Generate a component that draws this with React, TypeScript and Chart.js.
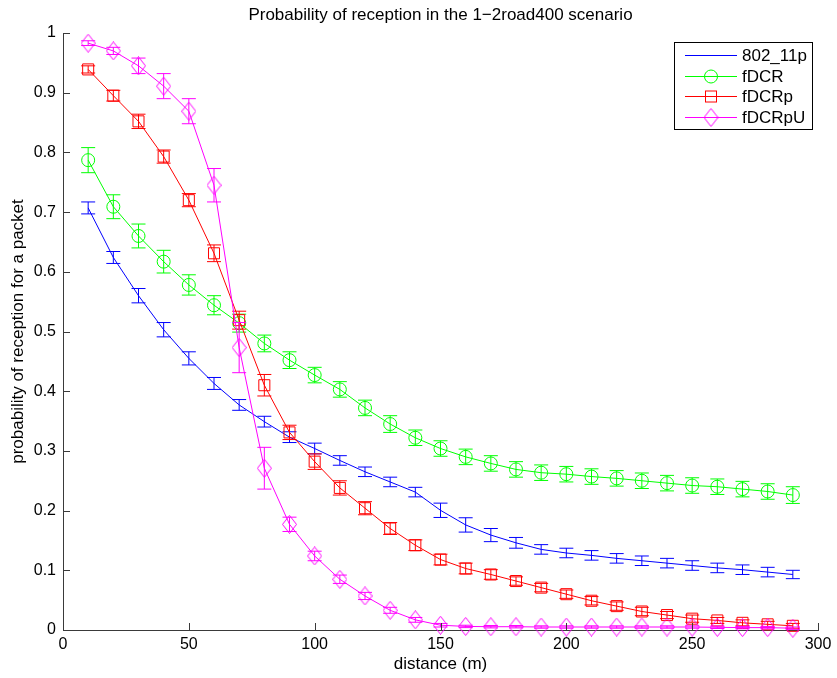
import { useEffect, useRef } from "react";
import { Chart, registerables } from "chart.js";

Chart.register(...registerables);

const distances = [10, 20, 30, 40, 50, 60, 70, 80, 90, 100, 110, 120, 130, 140, 150, 160, 170, 180, 190, 200, 210, 220, 230, 240, 250, 260, 270, 280, 290];

const p80211p = [0.707, 0.624, 0.560, 0.503, 0.455, 0.413, 0.377, 0.349, 0.323, 0.304, 0.284, 0.265, 0.248, 0.231, 0.2005, 0.176, 0.159, 0.146, 0.135, 0.129, 0.125, 0.120, 0.116, 0.112, 0.108, 0.104, 0.101, 0.097, 0.093];
const p80211pErr = [0.010, 0.010, 0.012, 0.012, 0.011, 0.010, 0.009, 0.009, 0.009, 0.009, 0.008, 0.008, 0.008, 0.008, 0.012, 0.012, 0.011, 0.009, 0.008, 0.008, 0.008, 0.008, 0.008, 0.008, 0.008, 0.008, 0.008, 0.008, 0.007];

const fDCR = [0.787, 0.709, 0.660, 0.617, 0.578, 0.544, 0.514, 0.480, 0.452, 0.427, 0.403, 0.372, 0.345, 0.322, 0.304, 0.290, 0.279, 0.269, 0.2635, 0.261, 0.257, 0.254, 0.250, 0.246, 0.242, 0.240, 0.236, 0.232, 0.226];
const fDCRErr = [0.021, 0.020, 0.020, 0.019, 0.017, 0.016, 0.015, 0.014, 0.014, 0.013, 0.013, 0.013, 0.014, 0.013, 0.013, 0.013, 0.013, 0.013, 0.013, 0.013, 0.013, 0.013, 0.013, 0.013, 0.013, 0.013, 0.013, 0.013, 0.014];

const fDCRp = [0.939, 0.895, 0.852, 0.793, 0.720, 0.631, 0.519, 0.410, 0.331, 0.282, 0.238, 0.204, 0.170, 0.142, 0.118, 0.103, 0.093, 0.082, 0.071, 0.060, 0.049, 0.040, 0.031, 0.025, 0.019, 0.016, 0.012, 0.0095, 0.007];
const fDCRpErr = [0.006, 0.009, 0.012, 0.011, 0.011, 0.014, 0.015, 0.018, 0.012, 0.013, 0.012, 0.011, 0.010, 0.009, 0.009, 0.009, 0.008, 0.007, 0.007, 0.007, 0.007, 0.007, 0.007, 0.006, 0.006, 0.005, 0.005, 0.005, 0.004];

const fDCRpU = [0.983, 0.970, 0.945, 0.911, 0.869, 0.745, 0.473, 0.271, 0.177, 0.124, 0.085, 0.057, 0.033, 0.017, 0.008, 0.006, 0.0055, 0.0055, 0.005, 0.005, 0.005, 0.005, 0.005, 0.005, 0.005, 0.0045, 0.004, 0.004, 0.003];
const fDCRpUErr = [0.004, 0.006, 0.013, 0.021, 0.021, 0.028, 0.042, 0.035, 0.012, 0.008, 0.007, 0.006, 0.005, 0.004, 0.003, 0.002, 0.002, 0.002, 0.002, 0.002, 0.002, 0.002, 0.002, 0.002, 0.002, 0.002, 0.002, 0.002, 0.002];

const seriesLabels = ["802_11p", "fDCR", "fDCRp", "fDCRpU"];
const seriesColors = ["#0000ff", "#00ff00", "#ff0000", "#ff00ff"];
const seriesMarkers = ["none", "circle", "rect", "diamond"];
const seriesValues = [p80211p, fDCR, fDCRp, fDCRpU];
const seriesErrors = [p80211pErr, fDCRErr, fDCRpErr, fDCRpUErr];

const xTicks = [0, 50, 100, 150, 200, 250, 300];
const yTicks = [0, 0.1, 0.2, 0.3, 0.4, 0.5, 0.6, 0.7, 0.8, 0.9, 1];

const titleText = "Probability of reception in the 1\u22122road400 scenario";
const xTitle = "distance (m)";
const yTitle = "probability of reception for a packet";

const FONT = "'Liberation Sans', Arial, Helvetica, sans-serif";
const FS_TICK = 16;
const FS_TEXT = 17;
const AXIS_COLOR = "#3a3a3a";

function makeDiamond(color: string): HTMLCanvasElement {
  const c = document.createElement("canvas");
  c.width = 15;
  c.height = 19;
  const g = c.getContext("2d")!;
  g.strokeStyle = color;
  g.lineWidth = 1;
  g.beginPath();
  g.moveTo(7.5, 0.5);
  g.lineTo(14.5, 9.5);
  g.lineTo(7.5, 18.5);
  g.lineTo(0.5, 9.5);
  g.closePath();
  g.stroke();
  return c;
}

function drawMarker(ctx: CanvasRenderingContext2D, kind: string, x: number, y: number, color: string, diamond: HTMLCanvasElement) {
  ctx.save();
  ctx.strokeStyle = color;
  ctx.lineWidth = 1;
  if (kind === "circle") {
    ctx.beginPath();
    ctx.arc(x, y, 6.5, 0, Math.PI * 2);
    ctx.stroke();
  } else if (kind === "rect") {
    ctx.strokeRect(x - 5.5, y - 5.5, 11, 11);
  } else if (kind === "diamond") {
    ctx.drawImage(diamond, x - 7.5, y - 9.5);
  }
  ctx.restore();
}

export default function App() {
  const ref = useRef<HTMLCanvasElement>(null);

  useEffect(() => {
    const canvas = ref.current!;
    const diamond = makeDiamond(seriesColors[3]);

    const pointStyles: any[] = seriesMarkers.map((m) => (m === "diamond" ? diamond : m === "none" ? "circle" : m));
    const pointRadii = [0, 6.5, 7.8, 9.5];

    const datasets = seriesValues.map((vals, i) => ({
      label: seriesLabels[i],
      data: distances.map((d, j) => ({ x: d, y: vals[j] })),
      borderColor: seriesColors[i],
      backgroundColor: "rgba(0,0,0,0)",
      borderWidth: 1,
      pointRadius: pointRadii[i],
      pointHoverRadius: pointRadii[i],
      pointStyle: pointStyles[i],
      pointBorderColor: seriesColors[i],
      pointBackgroundColor: "rgba(0,0,0,0)",
      pointBorderWidth: 1,
      tension: 0,
      fill: false,
      clip: false as any,
      order: 3 - i,
    }));

    const titlePlugin = {
      id: "matlabTitle",
      afterDraw(chart: any) {
        const { ctx, chartArea } = chart;
        ctx.save();
        ctx.font = `${FS_TEXT}px ${FONT}`;
        ctx.fillStyle = "#000";
        ctx.textAlign = "center";
        ctx.textBaseline = "alphabetic";
        ctx.fillText(titleText, (chartArea.left + chartArea.right) / 2, 20);
        ctx.restore();
      },
    };

    const ticksPlugin = {
      id: "inwardTicks",
      afterDraw(chart: any) {
        const { ctx, chartArea, scales } = chart;
        ctx.save();
        ctx.strokeStyle = AXIS_COLOR;
        ctx.lineWidth = 1;
        ctx.beginPath();
        for (const t of xTicks) {
          const px = Math.round(scales.x.getPixelForValue(t)) + 0.5;
          ctx.moveTo(px, chartArea.bottom);
          ctx.lineTo(px, chartArea.bottom - 7);
        }
        for (const t of yTicks) {
          const py = Math.round(scales.y.getPixelForValue(t)) + 0.5;
          ctx.moveTo(chartArea.left, py);
          ctx.lineTo(chartArea.left + 7, py);
        }
        ctx.stroke();
        ctx.restore();
      },
    };

    const errorBarPlugin = {
      id: "errorBars",
      afterDatasetDraw(chart: any, args: any) {
        const i = args.index;
        const meta = args.meta;
        const errs = seriesErrors[i];
        const vals = seriesValues[i];
        const ys = chart.scales.y;
        const { ctx } = chart;
        ctx.save();
        ctx.strokeStyle = seriesColors[i];
        ctx.lineWidth = 1;
        ctx.beginPath();
        meta.data.forEach((el: any, j: number) => {
          const x = el.x;
          const top = ys.getPixelForValue(vals[j] + errs[j]);
          const bot = ys.getPixelForValue(vals[j] - errs[j]);
          ctx.moveTo(x, top);
          ctx.lineTo(x, bot);
          ctx.moveTo(x - 7, top);
          ctx.lineTo(x + 7, top);
          ctx.moveTo(x - 7, bot);
          ctx.lineTo(x + 7, bot);
        });
        ctx.stroke();
        ctx.restore();
      },
    };

    const legendPlugin = {
      id: "matlabLegend",
      afterDraw(chart: any) {
        const { ctx } = chart;
        const bx = 674.5, by = 42.5, bw = 138, bh = 87;
        ctx.save();
        ctx.fillStyle = "#fff";
        ctx.fillRect(bx, by, bw, bh);
        ctx.strokeStyle = "#000";
        ctx.lineWidth = 1;
        ctx.strokeRect(bx, by, bw, bh);
        ctx.font = `${FS_TEXT}px ${FONT}`;
        ctx.textBaseline = "middle";
        ctx.textAlign = "left";
        seriesLabels.forEach((lab, i) => {
          const y = Math.round(by + 12.5 + i * 20.7) + 0.5;
          ctx.strokeStyle = seriesColors[i];
          ctx.beginPath();
          ctx.moveTo(685, y);
          ctx.lineTo(737, y);
          ctx.stroke();
          drawMarker(ctx, seriesMarkers[i], 711, y, seriesColors[i], diamond);
          ctx.fillStyle = "#000";
          ctx.fillText(lab, 742, y + 1);
        });
        ctx.restore();
      },
    };

    const chart = new Chart(canvas, {
      type: "line",
      data: { datasets: datasets as any },
      options: {
        animation: false,
        responsive: false,
        maintainAspectRatio: false,
        devicePixelRatio: 1,
        layout: { padding: { left: 0, right: 19, top: 33, bottom: 0 } },
        plugins: {
          legend: { display: false },
          title: { display: false },
          tooltip: { enabled: false },
        },
        events: [],
        scales: {
          x: {
            type: "linear",
            min: 0,
            max: 300,
            afterBuildTicks: (s: any) => {
              s.ticks = xTicks.map((v) => ({ value: v }));
            },
            afterFit: (s: any) => {
              s.height = 48;
            },
            ticks: {
              font: { family: FONT, size: FS_TICK },
              color: "#000",
              padding: 5,
              maxRotation: 0,
              autoSkip: false,
              callback: (v: any) => String(v),
            },
            grid: { display: false, drawTicks: false },
            border: { display: true, color: AXIS_COLOR, width: 1 },
            title: {
              display: true,
              text: xTitle,
              color: "#000",
              font: { family: FONT, size: FS_TEXT },
              padding: { top: 0, bottom: 3 },
            },
          },
          y: {
            type: "linear",
            min: 0,
            max: 1,
            afterBuildTicks: (s: any) => {
              s.ticks = yTicks.map((v) => ({ value: v }));
            },
            afterFit: (s: any) => {
              s.width = 63;
            },
            ticks: {
              font: { family: FONT, size: FS_TICK },
              color: "#000",
              padding: 7,
              autoSkip: false,
              callback: (v: any) => String(Math.round(v * 10) / 10),
            },
            grid: { display: false, drawTicks: false },
            border: { display: true, color: AXIS_COLOR, width: 1 },
            title: {
              display: true,
              text: yTitle,
              color: "#000",
              font: { family: FONT, size: FS_TEXT },
              padding: { top: 8, bottom: 0 },
            },
          },
        },
      },
      plugins: [errorBarPlugin, ticksPlugin, titlePlugin, legendPlugin],
    });

    return () => chart.destroy();
  }, []);

  return (
    <div style={{ position: "absolute", left: 0, top: 0, width: 837, height: 678, background: "#fff" }}>
      <canvas ref={ref} width={837} height={678} style={{ display: "block", width: 837, height: 678 }} />
    </div>
  );
}
